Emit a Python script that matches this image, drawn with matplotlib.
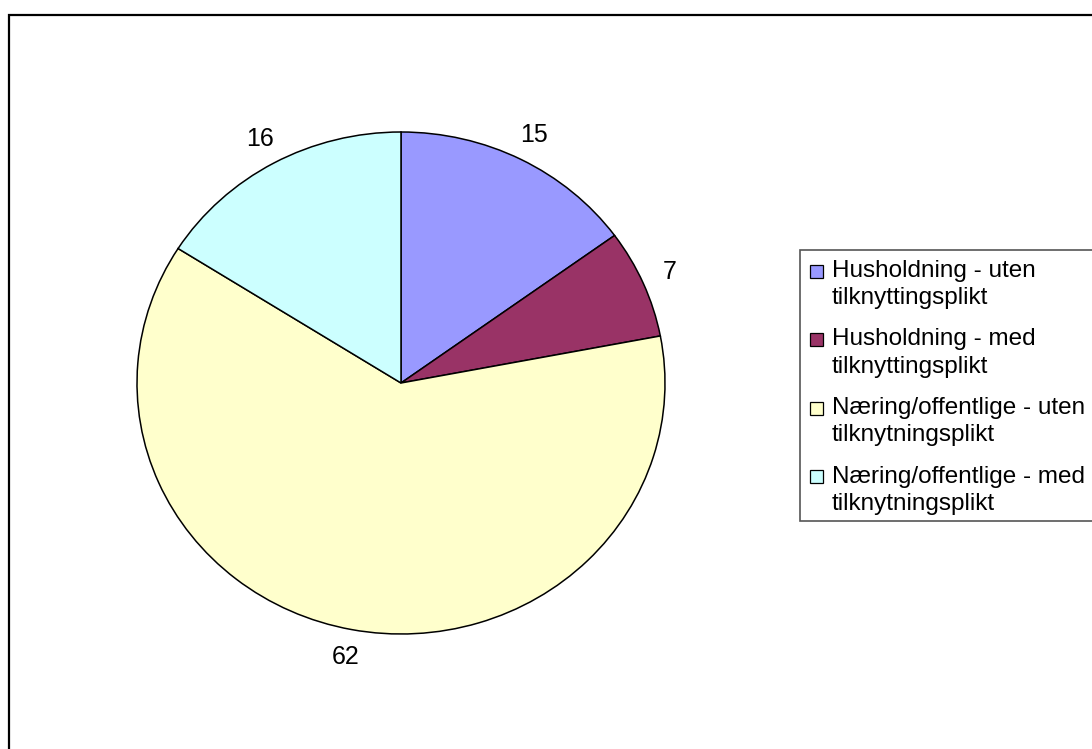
import matplotlib
matplotlib.use("Agg")
import matplotlib.pyplot as plt
from matplotlib.patches import Rectangle

plt.rcParams['font.family'] = ['Liberation Sans', 'DejaVu Sans']

# data
categories = ["Husholdning - uten\ntilknyttingsplikt",
              "Husholdning - med\ntilknyttingsplikt",
              "Næring/offentlige - uten\ntilknytningsplikt",
              "Næring/offentlige - med\ntilknytningsplikt"]
values = [15, 7, 62, 16]
colors = ["#9999FF", "#993366", "#FFFFCC", "#CCFFFF"]

W, H = 1092, 749
fig = plt.figure(figsize=(W / 100, H / 100), dpi=100)

# outer chart frame (runs off the right and bottom edges)
fig.add_artist(Rectangle((9 / W, -0.05), 1.1, 1 - 15 / H + 0.05,
                         transform=fig.transFigure, fill=False,
                         edgecolor="black", linewidth=1.6))

# pie is slightly squashed, so the axes box sets the ellipse
cx, cy, rx, ry = 401, 383, 264, 251
ax = fig.add_axes([(cx - rx) / W, (H - cy - ry) / H, 2 * rx / W, 2 * ry / H])
wedges, texts = ax.pie(values, colors=colors, startangle=90, counterclock=False,
                       labels=[str(v) for v in values], labeldistance=1.11,
                       wedgeprops=dict(edgecolor="black", linewidth=1.1),
                       textprops=dict(fontsize=18, color="black"))
for t in texts:
    t.set_horizontalalignment("center")
    t.set_verticalalignment("center")
ax.set_aspect("auto")
ax.set_xlim(-1, 1)
ax.set_ylim(-1, 1)
ax.axis("off")

# legend drawn by hand so the marker sits on the first text line
lx, ly, lh = 800, 250, 271
fig.add_artist(Rectangle((lx / W, 1 - (ly + lh) / H), 0.5, lh / H,
                         transform=fig.transFigure, facecolor="white",
                         edgecolor="#555555", linewidth=1.2))
for i, (lab, col) in enumerate(zip(categories, colors)):
    y0 = 271 + i * 68.5
    fig.add_artist(Rectangle((810 / W, 1 - (y0 + 6.5) / H), 13 / W, 13 / H,
                             transform=fig.transFigure, facecolor=col,
                             edgecolor="black", linewidth=0.9))
    fig.text(832 / W, 1 - (y0 - 11) / H, lab, fontsize=17.5, va="top",
             ha="left", linespacing=1.3)

fig.savefig("out.png", dpi=100)
